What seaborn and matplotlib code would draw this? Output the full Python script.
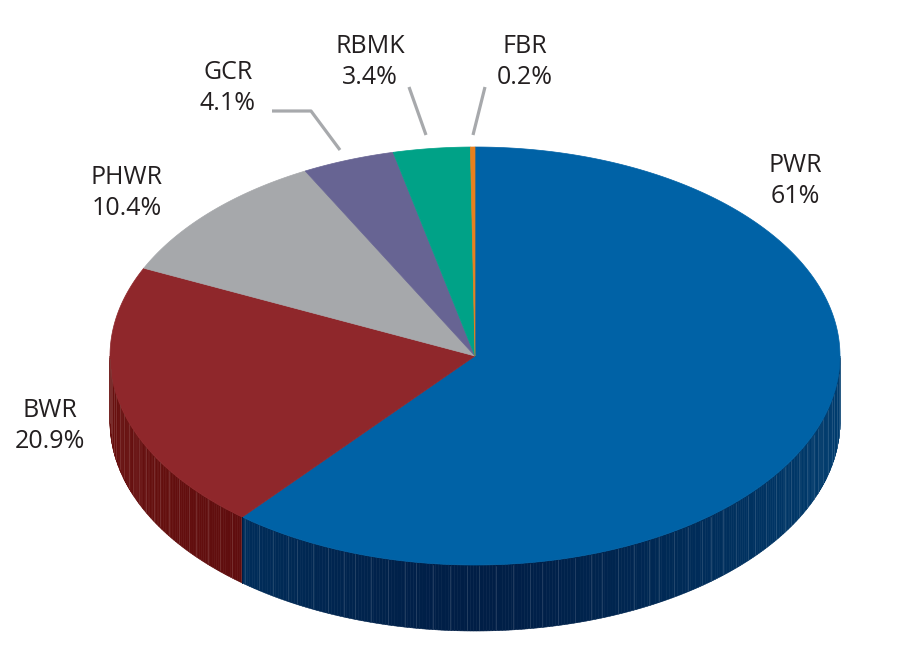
import numpy as np
import seaborn as sns
import matplotlib.pyplot as plt
from matplotlib.patches import Polygon
from matplotlib.colors import to_rgb

sns.set_theme(style="white")
plt.rcParams['font.family'] = ['Open Sans', 'DejaVu Sans']

# reactor types, share of the world fleet (%)
names = ["PWR", "BWR", "PHWR", "GCR", "RBMK", "FBR"]
shares = [61.0, 20.9, 10.4, 4.1, 3.4, 0.2]
share_labels = ["61%", "20.9%", "10.4%", "4.1%", "3.4%", "0.2%"]

top_colors = ["#0062A6", "#8F272B", "#A6A8AB", "#676493", "#00A287", "#E8801E"]
# side wall shades: darkest (front) and lightest (edges)
side_dark = ["#001E46", "#560A0C", "#6E7073", "#3F3D60", "#006655", "#9A5010"]
side_light = ["#003C6E", "#68100F", "#85878A", "#4F4C75", "#007A66", "#B0601A"]

# label placement (pixels) and leader lines
label_pos = [(795, 181), (50, 426), (127, 193), (228, 88), (370, 62), (525, 62)]
leaders = {3: [(272, 111), (311, 111), (340, 150)],
           4: [(409, 87), (426, 135)],
           5: [(485, 87), (473, 135)]}

cx, cy, rx, ry, depth = 475, 356, 365, 209, 66


def ell(t, dy=0):
    t = np.radians(t)
    return cx + rx * np.cos(t), cy - ry * np.sin(t) + dy


fig = plt.figure(figsize=(9.2, 6.54), dpi=100)
ax = fig.add_axes([0, 0, 1, 1])
ax.set_xlim(0, 920)
ax.set_ylim(654, 0)
ax.axis('off')

cum = np.concatenate([[0], np.cumsum(shares)]) / sum(shares) * 360
starts = 90 - cum[1:]
ends = 90 - cum[:-1]

# side walls (only the front half is visible)
for k in range(len(shares)):
    a, b = max(starts[k], -180), min(ends[k], 0)
    if b <= a:
        continue
    dark = np.array(to_rgb(side_dark[k]))
    light = np.array(to_rgb(side_light[k]))
    edges = np.linspace(a, b, int((b - a) / 0.5) + 2)
    for i in range(len(edges) - 1):
        t0, t1 = edges[i], edges[i + 1]
        w = abs(np.cos(np.radians(0.5 * (t0 + t1)))) ** 1.5
        c = dark + (light - dark) * w
        ts = np.linspace(t0, t1, 3)
        xt, yt = ell(ts)
        xb, yb = ell(ts[::-1], depth)
        pts = np.column_stack([np.concatenate([xt, xb]), np.concatenate([yt, yb])])
        ax.add_patch(Polygon(pts, closed=True, facecolor=c, edgecolor=c, lw=0.4))
    # thin light streaks
    for j, t in enumerate(np.arange(a + 0.6, b, 0.9)):
        if (j * 37) % 11 > 3:
            continue
        w = abs(np.cos(np.radians(t))) ** 1.5
        c = dark + (light - dark) * w
        c = c + (1 - c) * 0.18
        x0, y0 = ell(t)
        ax.plot([x0, x0], [y0 + 1, y0 + depth - 1], color=c, lw=0.5)
    # seam at the wedge boundary
    if a > -180:
        x0, y0 = ell(a)
        ax.plot([x0, x0], [y0, y0 + depth], color=side_dark[k], lw=0.8)

# top face
for k in range(len(shares)):
    ts = np.linspace(starts[k], ends[k], max(int((ends[k] - starts[k]) * 2), 4))
    xs, ys = ell(ts)
    pts = np.column_stack([np.concatenate([[cx], xs]), np.concatenate([[cy], ys])])
    ax.add_patch(Polygon(pts, closed=True, facecolor=top_colors[k],
                         edgecolor=top_colors[k], lw=0.5))

# labels
for k, (x, y) in enumerate(label_pos):
    ax.text(x, y, f"{names[k]}\n{share_labels[k]}", ha='center', va='center',
            fontsize=18, color='#231F20', linespacing=1.3)

for k, pts in leaders.items():
    xs, ys = zip(*pts)
    ax.plot(xs, ys, color='#A7A9AC', lw=2.3, solid_capstyle='butt')

fig.savefig('out.png', dpi=100)
